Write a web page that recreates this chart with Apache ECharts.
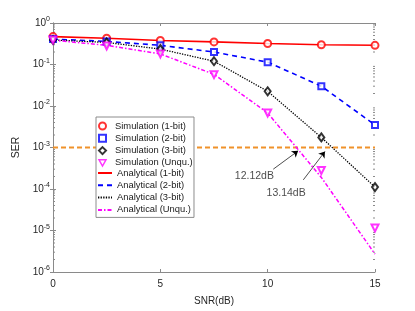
<!DOCTYPE html>
<html><head><meta charset="utf-8">
<script src="https://cdn.jsdelivr.net/npm/echarts@6/dist/echarts.min.js"></script>
<style>html,body{margin:0;padding:0;background:#fff}#c{width:415px;height:311px}</style>
</head><body><div id="c"></div>
<script>
const snr = [0, 2.5, 5, 7.5, 10, 12.5, 15];
const sim1 = [0.47, 0.43, 0.38, 0.35, 0.32, 0.30, 0.29];
const sim2 = [0.41, 0.36, 0.29, 0.20, 0.114, 0.030, 0.0035];
const sim3 = [0.39, 0.34, 0.235, 0.12, 0.0226, 0.00175, 0.000111];
const simU = [0.39, 0.28, 0.18, 0.057, 0.0068, 0.00028, 0.0000115];
const ana1 = [0.47, 0.43, 0.38, 0.35, 0.32, 0.30, 0.29];
const ana2 = [0.41, 0.36, 0.29, 0.20, 0.114, 0.030, 0.0035];
const ana3 = [0.39, 0.34, 0.235, 0.12, 0.0226, 0.00175, 0.000111];
const anaU = [0.385, 0.29, 0.18, 0.058, 0.0068, 0.00019, 0.0000027];
const threshold = 1e-3;
const thrX = [0, 15];
const arrows = [[[10.26, 3.0e-4], [11.42, 8.3e-4]], [[11.66, 1.66e-4], [12.67, 8.0e-4]]];
const notes = [{name: '12.12dB', value: [9.38, 2.0e-4]}, {name: '13.14dB', value: [10.86, 7.8e-5]}];

const pair = (xs, ys) => xs.map((x, i) => [x, ys[i]]);
const font = 'Liberation Sans, Arial, Helvetica, sans-serif';
const axisGray = '#8a8a8a';

// minor tick values of the log axis (2..9 x 10^e)
const minorVals = [];
for (let e = -6; e < 0; e++) for (let k = 2; k <= 9; k++) minorVals.push(k * Math.pow(10, e));

const chart = echarts.init(document.getElementById('c'));
const yLabel = v => '{b|10}{s|' + Math.round(Math.log10(v)) + '}';
const simStyle = c => ({color: c, borderColor: c, borderWidth: 1.5});
const anaLegend = n => ({name: n, itemStyle: {opacity: 0}});
const legendText = {fontSize: 9.4, color: '#1a1a1a', fontFamily: font};
chart.setOption({
  animation: false,
  textStyle: {fontFamily: font},
  grid: {left: 53, right: 40, top: 23, bottom: 34},
  legend: [{
    left: 96, top: 117, orient: 'vertical', z: 10,
    itemWidth: 14, itemHeight: 10, itemGap: 3.3,
    padding: [51.5, 3, 3, 1],
    backgroundColor: '#fff', borderColor: '#8c8c8c', borderWidth: 1,
    textStyle: Object.assign({padding: [0, 0, 0, 0]}, legendText),
    data: [anaLegend('Analytical (1-bit)'), anaLegend('Analytical (2-bit)'),
           anaLegend('Analytical (3-bit)'), anaLegend('Analytical (Unqu.)')]
  }, {
    left: 96, top: 117, orient: 'vertical', z: 11,
    itemWidth: 7, itemHeight: 7, itemGap: 3.3,
    padding: [4.5, 3, 3, 2],
    textStyle: Object.assign({padding: [0, 0, 0, 4]}, legendText),
    data: ['Simulation (1-bit)', 'Simulation (2-bit)', 'Simulation (3-bit)',
           {name: 'Simulation (Unqu.)', icon: 'path://M0,0 L10,0 L5,9 Z',
            itemStyle: {color: '#fff', borderColor: '#ff00ff', borderWidth: 1.5}}]
  }],
  xAxis: [{
    type: 'value', min: 0, max: 15, interval: 5,
    name: 'SNR(dB)', nameLocation: 'middle', nameGap: 24,
    nameTextStyle: {fontSize: 10, color: '#262626'},
    axisLine: {lineStyle: {color: axisGray}},
    axisTick: {inside: true, length: 3, lineStyle: {color: axisGray}},
    axisLabel: {fontSize: 10, color: '#262626', margin: 7},
    splitLine: {show: false}
  }, {
    type: 'value', min: 0, max: 15, interval: 5, position: 'top',
    axisLine: {show: true, lineStyle: {color: axisGray}},
    axisTick: {inside: true, length: 3, lineStyle: {color: axisGray}},
    axisLabel: {show: false}, splitLine: {show: false}
  }],
  yAxis: [{
    type: 'log', logBase: 10, min: 1e-6, max: 1,
    name: 'SER', nameLocation: 'middle', nameGap: 31,
    nameTextStyle: {fontSize: 10.5, color: '#262626'},
    axisLine: {show: true, lineStyle: {color: axisGray}},
    axisTick: {inside: true, length: 3, lineStyle: {color: axisGray}},
    axisLabel: {formatter: yLabel, margin: 3, rich: {
      b: {fontSize: 10, color: '#262626', fontFamily: font},
      s: {fontSize: 7, color: '#262626', fontFamily: font, verticalAlign: 'bottom', padding: [0, 0, 7, 0]}
    }},
    splitLine: {show: false}
  }, {
    type: 'log', logBase: 10, min: 1e-6, max: 1, position: 'right',
    axisLine: {show: true, lineStyle: {color: axisGray}},
    axisTick: {inside: true, length: 3, lineStyle: {color: axisGray}},
    axisLabel: {show: false}, splitLine: {show: false}
  }],
  series: [
    {name: 'minorTicks', type: 'custom', data: minorVals.map(v => [0, v]), silent: true, z: 0,
     renderItem: (params, api) => {
       const v = api.value(1);
       const l = api.coord([0, v]);
       const r = api.coord([15, v]);
       const st = {stroke: axisGray, lineWidth: 1};
       return {type: 'group', children: [
         {type: 'line', shape: {x1: l[0], y1: l[1], x2: l[0] + 2, y2: l[1]}, style: st},
         {type: 'line', shape: {x1: r[0], y1: r[1], x2: r[0] - 2, y2: r[1]}, style: st}
       ]};
     }},
    {name: 'threshold', type: 'line', data: pair(thrX, [threshold, threshold]), symbol: 'none',
     lineStyle: {color: '#f0922a', width: 2, type: [5, 3]}, z: 1},
    {name: 'Analytical (1-bit)', type: 'line', data: pair(snr, ana1), symbol: 'none', color: '#ff0000',
     lineStyle: {color: '#ff0000', width: 1.6}},
    {name: 'Analytical (2-bit)', type: 'line', data: pair(snr, ana2), symbol: 'none', color: '#0000ff',
     lineStyle: {color: '#0000ff', width: 1.6, type: [5, 4]}},
    {name: 'Analytical (3-bit)', type: 'line', data: pair(snr, ana3), symbol: 'none', color: '#000000',
     lineStyle: {color: '#000000', width: 1.3, type: [1.3, 1.3]}},
    {name: 'Analytical (Unqu.)', type: 'line', data: pair(snr, anaU), symbol: 'none', color: '#ff00ff',
     lineStyle: {color: '#ff00ff', width: 1.5, type: [4, 2, 1.5, 2]}},
    {name: 'Simulation (1-bit)', type: 'scatter', data: pair(snr, sim1), symbol: 'emptyCircle', symbolSize: 7,
     itemStyle: simStyle('#ff0000'), z: 5},
    {name: 'Simulation (2-bit)', type: 'scatter', data: pair(snr, sim2), symbol: 'emptyRect', symbolSize: 6,
     itemStyle: simStyle('#0000ff'), z: 5},
    {name: 'Simulation (3-bit)', type: 'scatter', data: pair(snr, sim3), symbol: 'emptyDiamond', symbolSize: [6, 8],
     itemStyle: simStyle('#000000'), z: 5},
    {name: 'Simulation (Unqu.)', type: 'scatter', data: pair(snr, simU), symbol: 'emptyTriangle', symbolSize: 7,
     symbolRotate: 180, itemStyle: simStyle('#ff00ff'), z: 5},
    {name: 'arrows', type: 'lines', coordinateSystem: 'cartesian2d', data: arrows.map(a => ({coords: a})),
     symbol: ['none', 'arrow'], symbolSize: 6, lineStyle: {color: '#000', width: 0.7, opacity: 1}, z: 6},
    {name: 'notes', type: 'scatter', data: notes, symbolSize: 0, z: 6,
     label: {show: true, position: 'inside', formatter: p => p.name, fontSize: 10.5, color: '#1a1a1a', fontFamily: font}}
  ]
});
</script></body></html>
